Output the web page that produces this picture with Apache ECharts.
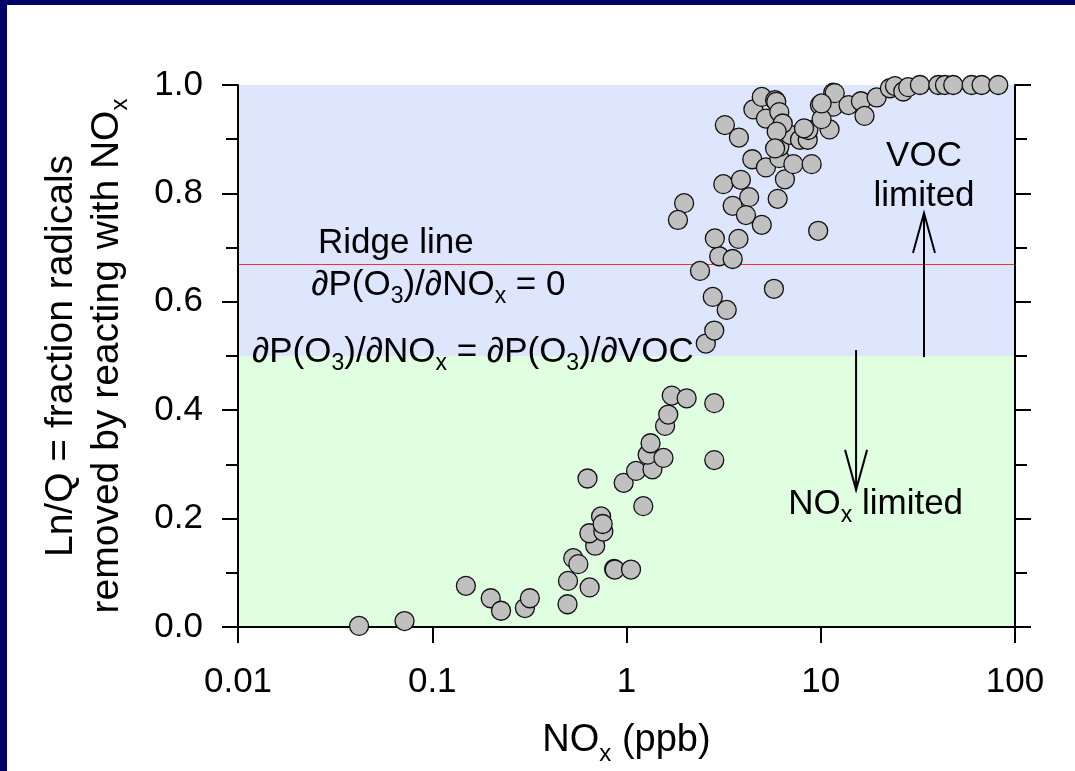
<!DOCTYPE html>
<html>
<head>
<meta charset="utf-8">
<script src="https://cdn.jsdelivr.net/npm/echarts@6/dist/echarts.min.js"></script>
<style>
html,body{margin:0;padding:0;background:#fff;}
#chart{width:1075px;height:771px;}
</style>
</head>
<body>
<div id="chart"></div>
<script>
// ---------------- data ----------------
const noxValues = [
  0.042, 0.072, 0.149, 0.20, 0.226, 0.30, 0.318, 0.497, 0.50, 0.532,
  0.565, 0.646, 0.63, 0.69, 0.644, 0.74, 0.76, 0.754, 0.863, 0.87,
  1.055, 1.22, 0.967, 1.12, 1.36, 1.285, 1.55, 1.33, 1.58, 1.64,
  1.71, 2.04, 2.83, 2.83,
  2.56, 2.83, 3.28, 2.78, 5.74, 2.39, 3.00, 3.52, 2.85, 3.77,
  4.97, 9.7, 1.98, 1.84, 3.15, 3.88, 4.28, 3.52, 4.12, 6.0,
  6.54, 4.44, 5.22, 6.12, 7.23, 8.98, 6.12, 6.95, 7.82, 8.57,
  8.63, 8.2, 11.1, 3.21, 3.79, 4.5, 4.97, 5.22, 5.82, 5.9,
  6.12, 6.37, 5.93, 5.82, 9.9, 11.6, 11.6, 10.1, 11.8, 10.1,
  13.9, 16.1, 16.8, 19.4, 22.7, 24.1, 26.6, 28.2, 32.4, 40.3,
  43.6, 48.1, 59.8, 67.3, 82
];
const fractionValues = [
  0.002, 0.011, 0.076, 0.053, 0.030, 0.035, 0.053, 0.042, 0.085, 0.127,
  0.116, 0.073, 0.274, 0.150, 0.173, 0.204, 0.176, 0.190, 0.107, 0.106,
  0.106, 0.223, 0.266, 0.288, 0.291, 0.318, 0.312, 0.339, 0.371, 0.392,
  0.427, 0.422, 0.413, 0.308,
  0.523, 0.547, 0.585, 0.609, 0.624, 0.657, 0.684, 0.679, 0.717, 0.716,
  0.742, 0.731, 0.782, 0.751, 0.817, 0.825, 0.793, 0.777, 0.760, 0.790,
  0.826, 0.863, 0.848, 0.865, 0.854, 0.854, 0.886, 0.908, 0.899, 0.899,
  0.917, 0.920, 0.918, 0.926, 0.903, 0.955, 0.978, 0.938, 0.972, 0.969,
  0.950, 0.929, 0.914, 0.883, 0.963, 0.986, 0.960, 0.937, 0.985, 0.966,
  0.963, 0.970, 0.943, 0.977, 0.994, 0.998, 0.988, 0.996, 1.0, 1.0,
  1.0, 1.0, 1.0, 1.0, 1.0
];
const xTickLabels = ['0.01', '0.1', '1', '10', '100'];
const yTickLabels = ['0.0', '0.2', '0.4', '0.6', '0.8', '1.0'];
const xMin = 0.01, xMax = 100;
const yMin = 0, yMax = 1;
const ridgeLineValue = 0.667;
const regimeBoundary = 0.5;

// annotation anchors (data coordinates)
const ridgeLabelAnchor = [0.0258, 0.707];
const ridgeEqAnchor = [0.0238, 0.631];
const boundaryEqAnchor = [0.0118, 0.507];
const vocLine1Anchor = [34.0, 0.868];
const vocLine2Anchor = [34.0, 0.795];
const noxLimitedAnchor = [6.8, 0.226];
const upArrow = { x: 34.0, from: 0.498, to: 0.764 };
const downArrow = { x: 15.2, from: 0.511, to: 0.253 };

// ---------------- chart ----------------
const FONT = '"Liberation Sans", Arial, Helvetica, sans-serif';
const chart = echarts.init(document.getElementById('chart'), null, { renderer: 'canvas' });

const points = noxValues.map((v, i) => [v, fractionValues[i]]);

const tickLabelStyle = { fontSize: 35, fontFamily: FONT, color: '#000', lineHeight: 35 };
const axisLineStyle = { color: '#000', width: 2 };

function subStyle(fs, padTop) {
  return { fontSize: fs, fontFamily: FONT, color: '#000', fill: '#000', lineHeight: 10,
           verticalAlign: 'top', padding: [padTop, 0, 0, 0] };
}

const option = {
  backgroundColor: '#ffffff',
  animation: false,
  grid: { left: 238, right: 60, top: 85, bottom: 144, outerBoundsMode: 'none', containLabel: false },
  xAxis: [
    {
      type: 'log', logBase: 10, min: xMin, max: xMax, position: 'bottom', z: 10,
      axisLine: { show: true, lineStyle: axisLineStyle },
      axisTick: { show: true, inside: false, length: 16, lineStyle: axisLineStyle },
      minorTick: { show: false },
      splitLine: { show: false },
      axisLabel: {
        ...tickLabelStyle, margin: 38,
        formatter: function (v) {
          const i = Math.round(Math.log10(v)) + 2;
          return xTickLabels[i] !== undefined ? xTickLabels[i] : '';
        }
      },
      name: '{n|NO}{s|x}{n| (ppb)}',
      nameLocation: 'middle', nameGap: 92,
      nameTextStyle: {
        fontFamily: FONT, color: '#000', fontSize: 38,
        rich: {
          n: { fontSize: 38, fontFamily: FONT, color: '#000', fill: '#000', lineHeight: 44 },
          s: subStyle(24, 23)
        }
      }
    },
    {
      type: 'log', logBase: 10, min: xMin, max: xMax, position: 'top', z: 10,
      axisLine: { show: true, lineStyle: axisLineStyle },
      axisTick: { show: false }, axisLabel: { show: false }, splitLine: { show: false }
    }
  ],
  yAxis: [
    {
      type: 'value', min: yMin, max: yMax, interval: 0.2, position: 'left', z: 10,
      axisLine: { show: true, lineStyle: axisLineStyle },
      axisTick: { show: true, inside: false, length: 16, lineStyle: axisLineStyle },
      minorTick: { show: true, splitNumber: 2, length: 12, lineStyle: axisLineStyle },
      splitLine: { show: false },
      axisLabel: {
        ...tickLabelStyle, margin: 35,
        formatter: function (v) {
          const i = Math.round(v / 0.2);
          return yTickLabels[i] !== undefined ? yTickLabels[i] : '';
        }
      },
      name: '{n|Ln/Q = fraction radicals}\n{n|removed by reacting with NO}{s|x}',
      nameLocation: 'middle', nameRotate: 90, nameGap: 108,
      nameTextStyle: {
        fontFamily: FONT, color: '#000', fontSize: 39, align: 'center',
        rich: {
          n: { fontSize: 39, fontFamily: FONT, color: '#000', fill: '#000', lineHeight: 46 },
          s: subStyle(24, 24)
        }
      }
    },
    {
      type: 'value', min: yMin, max: yMax, interval: 0.2, position: 'right', z: 10,
      axisLine: { show: true, lineStyle: axisLineStyle },
      axisTick: { show: true, inside: false, length: 16, lineStyle: axisLineStyle },
      minorTick: { show: true, splitNumber: 2, length: 12, lineStyle: axisLineStyle },
      splitLine: { show: false },
      axisLabel: { show: false }
    }
  ],
  series: [
    {
      type: 'line', data: [], z: 1, silent: true,
      markArea: {
        silent: true,
        label: { show: false },
        data: [
          [{ xAxis: xMin, yAxis: regimeBoundary, itemStyle: { color: '#dee6fe' } }, { xAxis: xMax, yAxis: yMax }],
          [{ xAxis: xMin, yAxis: yMin, itemStyle: { color: '#e0fee0' } }, { xAxis: xMax, yAxis: regimeBoundary }]
        ]
      },
      markLine: {
        silent: true, symbol: 'none',
        label: { show: false },
        lineStyle: { color: '#ff3030', width: 1.2, type: 'solid' },
        data: [{ yAxis: ridgeLineValue }]
      }
    },
    {
      type: 'scatter', data: points, z: 20, clip: false,
      symbol: 'circle', symbolSize: 19,
      itemStyle: { color: '#c0c0c0', borderColor: '#111', borderWidth: 1.3, opacity: 1 }
    }
  ]
};
chart.setOption(option);

// ---------------- annotations ----------------
function px(pt) { return chart.convertToPixel({ seriesIndex: 1 }, pt); }
const richA = {
  n: { fontSize: 35, fontFamily: FONT, fill: '#000', color: '#000', lineHeight: 40 },
  s: subStyle(23, 20)
};
function label(anchor, text, align) {
  const p = px(anchor);
  return {
    type: 'text', x: p[0], y: p[1], z: 60, silent: true,
    style: {
      text: text, rich: richA, fill: '#000',
      font: '35px ' + FONT,
      align: align, verticalAlign: 'middle',
      textAlign: align, textVerticalAlign: 'middle'
    }
  };
}
function arrow(a) {
  const p0 = px([a.x, a.from]);
  const p1 = px([a.x, a.to]);
  const dir = p1[1] < p0[1] ? 1 : -1;
  const headLen = 40, headHalf = 11;
  return [
    { type: 'line', z: 60, silent: true, shape: { x1: p0[0], y1: p0[1], x2: p1[0], y2: p1[1] },
      style: { stroke: '#000', lineWidth: 2 } },
    { type: 'polyline', z: 60, silent: true,
      shape: { points: [[p1[0] - headHalf, p1[1] + dir * headLen], [p1[0], p1[1]], [p1[0] + headHalf, p1[1] + dir * headLen]] },
      style: { stroke: '#000', lineWidth: 2, fill: null } }
  ];
}
const graphics = [
  { type: 'rect', z: 100, silent: true, shape: { x: 0, y: 0, width: 7, height: 771 }, style: { fill: '#000066' } },
  { type: 'rect', z: 100, silent: true, shape: { x: 0, y: 0, width: 1075, height: 5 }, style: { fill: '#000066' } },
  label(ridgeLabelAnchor, '{n|Ridge line}', 'left'),
  label(ridgeEqAnchor, '{n|∂P(O}{s|3}{n|)/∂NO}{s|x}{n| = 0}', 'left'),
  label(boundaryEqAnchor, '{n|∂P(O}{s|3}{n|)/∂NO}{s|x}{n| = ∂P(O}{s|3}{n|)/∂VOC}', 'left'),
  label(vocLine1Anchor, '{n|VOC}', 'center'),
  label(vocLine2Anchor, '{n|limited}', 'center'),
  label(noxLimitedAnchor, '{n|NO}{s|x}{n| limited}', 'left')
].concat(arrow(upArrow), arrow(downArrow));
chart.setOption({ graphic: graphics });
</script>
</body>
</html>
